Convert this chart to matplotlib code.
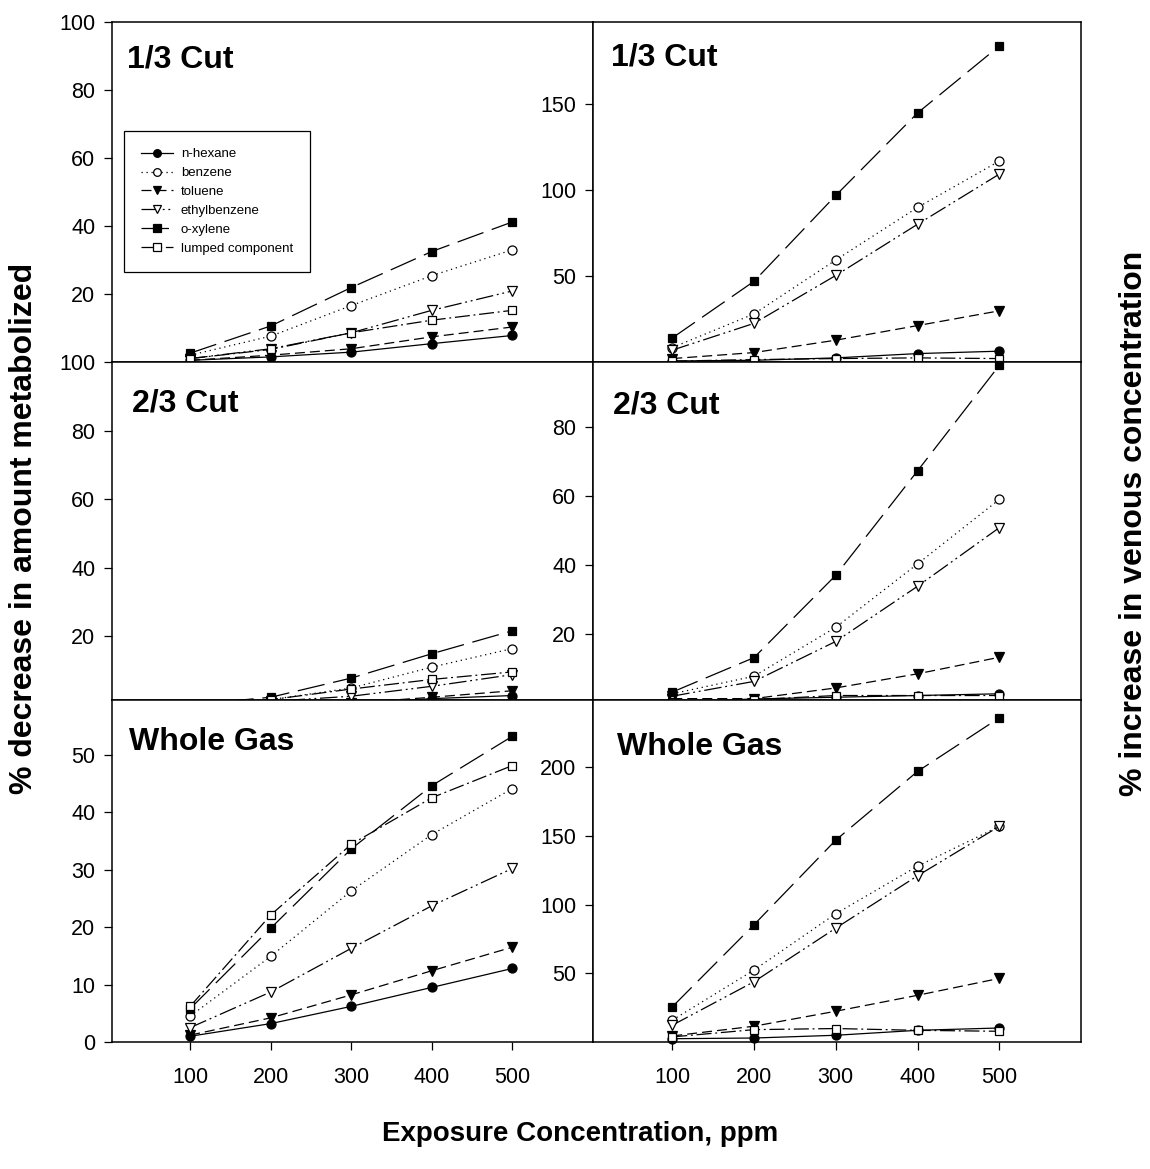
import matplotlib
matplotlib.use("Agg")
import matplotlib.pyplot as plt

plt.rcParams['font.family'] = ['Liberation Sans', 'DejaVu Sans']

# Exposure concentrations (ppm)
conc = [100, 200, 300, 400, 500]

series_names = ["n-hexane", "benzene", "toluene", "ethylbenzene", "o-xylene", "lumped component"]

# % decrease in amount metabolized
met_third = {
    "n-hexane":         [0.5, 1.5, 2.9, 5.4, 7.8],
    "benzene":          [2.0, 7.6, 16.6, 25.4, 33.0],
    "toluene":          [0.5, 2.0, 3.9, 7.4, 10.3],
    "ethylbenzene":     [1.0, 3.9, 8.6, 15.2, 20.9],
    "o-xylene":         [2.6, 10.6, 21.9, 32.5, 41.2],
    "lumped component": [1.0, 3.7, 8.6, 12.3, 15.2],
}
met_twothird = {
    "n-hexane":         [0.0, 0.2, 0.3, 1.8, 2.7],
    "benzene":          [0.0, 1.5, 4.9, 11.0, 16.4],
    "toluene":          [0.0, 0.5, 0.5, 2.2, 4.1],
    "ethylbenzene":     [0.0, 1.0, 2.5, 5.4, 8.8],
    "o-xylene":         [0.0, 2.2, 7.8, 14.9, 21.6],
    "lumped component": [0.0, 1.5, 4.6, 7.4, 9.6],
}
met_whole = {
    "n-hexane":         [1.0, 3.2, 6.2, 9.5, 12.8],
    "benzene":          [4.5, 14.9, 26.3, 36.1, 44.1],
    "toluene":          [1.2, 4.2, 8.2, 12.4, 16.5],
    "ethylbenzene":     [2.5, 8.7, 16.3, 23.7, 30.2],
    "o-xylene":         [5.8, 19.8, 33.6, 44.6, 53.2],
    "lumped component": [6.2, 22.1, 34.4, 42.5, 48.1],
}

# % increase in venous concentration
ven_third = {
    "n-hexane":         [0.6, 1.0, 2.4, 4.9, 6.3],
    "benzene":          [8.4, 28.0, 59.4, 90.0, 117.0],
    "toluene":          [2.0, 5.5, 12.7, 21.2, 29.8],
    "ethylbenzene":     [6.9, 22.5, 50.4, 80.2, 109.4],
    "o-xylene":         [14.0, 47.0, 97.0, 145.0, 184.0],
    "lumped component": [0.5, 1.4, 2.0, 2.4, 2.0],
}
ven_twothird = {
    "n-hexane":         [0.3, 1.2, 1.7, 2.2, 2.7],
    "benzene":          [2.7, 7.8, 22.0, 40.4, 59.1],
    "toluene":          [1.3, 1.3, 4.4, 8.5, 13.3],
    "ethylbenzene":     [2.0, 6.3, 17.9, 33.9, 50.9],
    "o-xylene":         [3.2, 13.2, 37.1, 67.4, 98.0],
    "lumped component": [0.3, 1.0, 2.2, 2.2, 2.2],
}
ven_whole = {
    "n-hexane":         [2.4, 2.9, 4.9, 8.5, 10.2],
    "benzene":          [15.9, 52.4, 93.4, 128.0, 157.0],
    "toluene":          [4.4, 11.5, 22.4, 34.0, 46.3],
    "ethylbenzene":     [12.2, 43.9, 82.9, 121.0, 157.0],
    "o-xylene":         [25.6, 85.4, 147.0, 197.0, 236.0],
    "lumped component": [3.7, 9.0, 9.8, 8.5, 7.8],
}

panel_titles = ["1/3 Cut", "2/3 Cut", "Whole Gas"]
x_ticks = [100, 200, 300, 400, 500]
left_yticks = [[20, 40, 60, 80, 100], [20, 40, 60, 80, 100], [0, 10, 20, 30, 40, 50]]
right_yticks = [[50, 100, 150], [20, 40, 60, 80], [50, 100, 150, 200]]
left_ylims = [(0, 100), (1.4, 100), (0, 59.5)]
right_ylims = [(0, 198), (0.9, 99), (0, 249)]

styles = {
    "n-hexane":         dict(marker="o", mfc="black", ls="-"),
    "benzene":          dict(marker="o", mfc="white", ls=(0, (1, 3))),
    "toluene":          dict(marker="v", mfc="black", ls=(0, (8, 4))),
    "ethylbenzene":     dict(marker="v", mfc="white", ls=(0, (14, 3, 1.5, 3, 1.5, 3))),
    "o-xylene":         dict(marker="s", mfc="black", ls=(0, (22, 7))),
    "lumped component": dict(marker="s", mfc="white", ls=(0, (12, 3, 1.5, 3))),
}
msizes = {"o": 6.5, "v": 7, "s": 6}

W, H = 1150, 1169
fig = plt.figure(figsize=(W / 100, H / 100), dpi=100)


def px_rect(x0, y0, x1, y1):
    return [x0 / W, 1 - y1 / H, (x1 - x0) / W, (y1 - y0) / H]


col_x = [(112, 593), (593, 1081)]
row_y = [(22, 362), (362, 700), (700, 1042)]
title_pos = [[(127, 68), (611, 66)], [(132, 412), (613, 414)], [(129, 750), (617, 755)]]

left_data = [met_third, met_twothird, met_whole]
right_data = [ven_third, ven_twothird, ven_whole]

tick_fs = 15.5
axes = []
for r in range(3):
    for c in range(2):
        ax = fig.add_axes(px_rect(col_x[c][0], row_y[r][0], col_x[c][1], row_y[r][1]))
        data = left_data[r] if c == 0 else right_data[r]
        for name in series_names:
            st = styles[name]
            ax.plot(conc, data[name], color="black", lw=0.9, ls=st["ls"],
                    marker=st["marker"], ms=msizes[st["marker"]], mfc=st["mfc"],
                    mec="black", mew=0.9, clip_on=False, label=name)
        ax.set_xlim(3, 600)
        if c == 0:
            ax.set_ylim(*left_ylims[r])
            ax.set_yticks(left_yticks[r])
        else:
            ax.set_ylim(*right_ylims[r])
            ax.set_yticks(right_yticks[r])
        ax.set_xticks(x_ticks)
        ax.tick_params(axis="y", direction="out", length=6, width=0.9, pad=6,
                       labelsize=tick_fs, left=True, right=False)
        if r == 2:
            ax.tick_params(axis="x", direction="out", length=6, width=0.9, pad=12,
                           labelsize=tick_fs, bottom=True, top=False)
        else:
            ax.tick_params(axis="x", bottom=False, labelbottom=False)
        for sp in ax.spines.values():
            sp.set_linewidth(1.1)
        tx, ty = title_pos[r][c]
        fig.text(tx / W, 1 - ty / H, panel_titles[r], fontsize=23, fontweight="bold",
                 ha="left", va="baseline")
        axes.append(ax)

leg = axes[0].legend(loc="upper left", bbox_to_anchor=(124 / W, 1 - 131 / H),
                     bbox_transform=fig.transFigure, borderaxespad=0, fontsize=9.5,
                     frameon=True, fancybox=False, edgecolor="black", framealpha=1,
                     handlelength=2.4, handletextpad=0.6, labelspacing=0.5,
                     borderpad=1.3, markerscale=0.85)
leg.get_frame().set_linewidth(0.9)

fig.text(24 / W, 1 - 528 / H, "% decrease in amount metabolized", rotation=90,
         fontsize=23, fontweight="bold", ha="center", va="center")
fig.text(1134 / W, 1 - 523 / H, "% increase in venous concentration", rotation=90,
         fontsize=23, fontweight="bold", ha="center", va="center")
fig.text(580 / W, 1 - 1141 / H, "Exposure Concentration, ppm",
         fontsize=20, fontweight="bold", ha="center", va="baseline")

fig.savefig("out.png", dpi=100)
